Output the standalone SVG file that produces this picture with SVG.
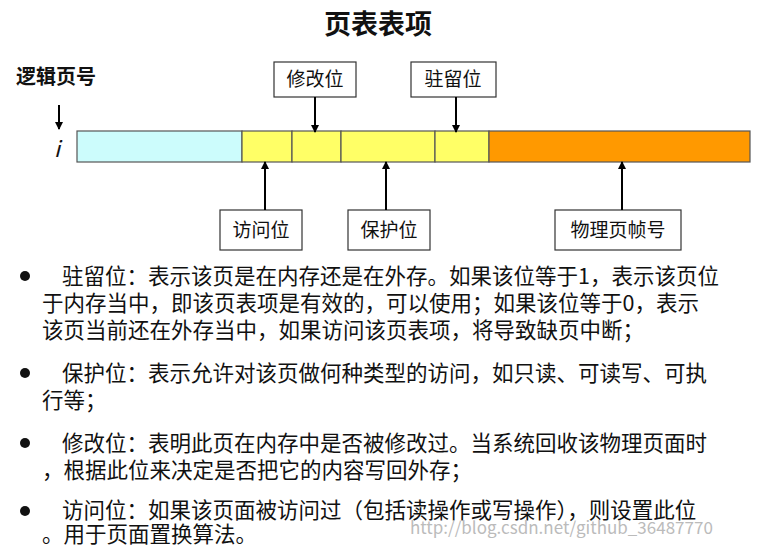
<svg xmlns="http://www.w3.org/2000/svg" width="781" height="549" viewBox="0 0 781 549">
<defs>
<marker id="ah" markerWidth="8" markerHeight="8" refX="7" refY="4" orient="auto" markerUnits="userSpaceOnUse"><path d="M0,0 L8,4 L0,8 z" fill="#000"/></marker>
<style>
text{font-family:"Noto Sans CJK SC",sans-serif;fill:#111}
.lbl{font-size:19px;text-anchor:middle}
.box{fill:#fff;stroke:#333;stroke-width:1.2}
.cell{stroke:#555;stroke-width:1.2}
.ar{stroke:#000;stroke-width:2;marker-end:url(#ah)}
.b{font-size:21.5px}
</style>
</defs>
<rect width="781" height="549" fill="#fff"/>
<text x="378" y="34" font-size="27" font-weight="bold" text-anchor="middle">页表表项</text>
<g id="bar">
<rect class="cell" x="77" y="131" width="165" height="31" fill="#ccfcfc"/>
<rect class="cell" x="242" y="131" width="50" height="31" fill="#ffff66"/>
<rect class="cell" x="292" y="131" width="49" height="31" fill="#ffff66"/>
<rect class="cell" x="341" y="131" width="94" height="31" fill="#ffff66"/>
<rect class="cell" x="435" y="131" width="54" height="31" fill="#ffff66"/>
<rect class="cell" x="489" y="131" width="261" height="31" fill="#ff9900"/>
</g>
<g id="logical"><text x="16" y="84" font-size="20" font-weight="bold">逻辑页号</text>
<text x="54" y="157" font-size="22" font-style="italic" font-family="Liberation Serif,serif">i</text></g>
<g id="n-modify"><rect class="box" x="274" y="62" width="82" height="35"/><text class="lbl" x="315" y="86">修改位</text></g>
<g id="n-resident"><rect class="box" x="411" y="62" width="85" height="35"/><text class="lbl" x="453" y="86">驻留位</text></g>
<g id="n-access"><rect class="box" x="220" y="210" width="82" height="40"/><text class="lbl" x="261" y="237">访问位</text></g>
<g id="n-protect"><rect class="box" x="348" y="210" width="82" height="40"/><text class="lbl" x="389" y="237">保护位</text></g>
<g id="n-frame"><rect class="box" x="555" y="210" width="126" height="40"/><text class="lbl" x="618" y="237">物理页帧号</text></g>
<g id="connectors">
<line class="ar" x1="59" y1="105" x2="59" y2="129"/>
<line class="ar" x1="315" y1="97" x2="315" y2="132"/>
<line class="ar" x1="456" y1="97" x2="456" y2="132"/>
<line class="ar" x1="265" y1="210" x2="265" y2="162"/>
<line class="ar" x1="386" y1="210" x2="386" y2="162"/>
<line class="ar" x1="622" y1="210" x2="622" y2="162"/>
</g>
<g id="bullets">
<circle cx="25" cy="276" r="5" fill="#111"/><circle cx="25" cy="373" r="5" fill="#111"/><circle cx="25" cy="443" r="5" fill="#111"/><circle cx="25" cy="511" r="5" fill="#111"/>
<text class="b" x="62" y="284">驻留位：表示该页是在内存还是在外存。如果该位等于1，表示该页位</text>
<text class="b" x="42" y="311">于内存当中，即该页表项是有效的，可以使用；如果该位等于0，表示</text>
<text class="b" x="42" y="338">该页当前还在外存当中，如果访问该页表项，将导致缺页中断；</text>
<text class="b" x="62" y="381">保护位：表示允许对该页做何种类型的访问，如只读、可读写、可执</text>
<text class="b" x="42" y="408">行等；</text>
<text class="b" x="62" y="451">修改位：表明此页在内存中是否被修改过。当系统回收该物理页面时</text>
<text class="b" x="42" y="478">，根据此位来决定是否把它的内容写回外存；</text>
<text class="b" x="62" y="518">访问位：如果该页面被访问过（包括读操作或写操作），则设置此位</text>
<text class="b" x="42" y="542">。用于页面置换算法。</text>
<text x="410" y="534" font-size="17" font-family="Liberation Mono,monospace" style="fill:#bbb">http://blog.csdn.net/github_36487770</text>
</g>
</svg>
